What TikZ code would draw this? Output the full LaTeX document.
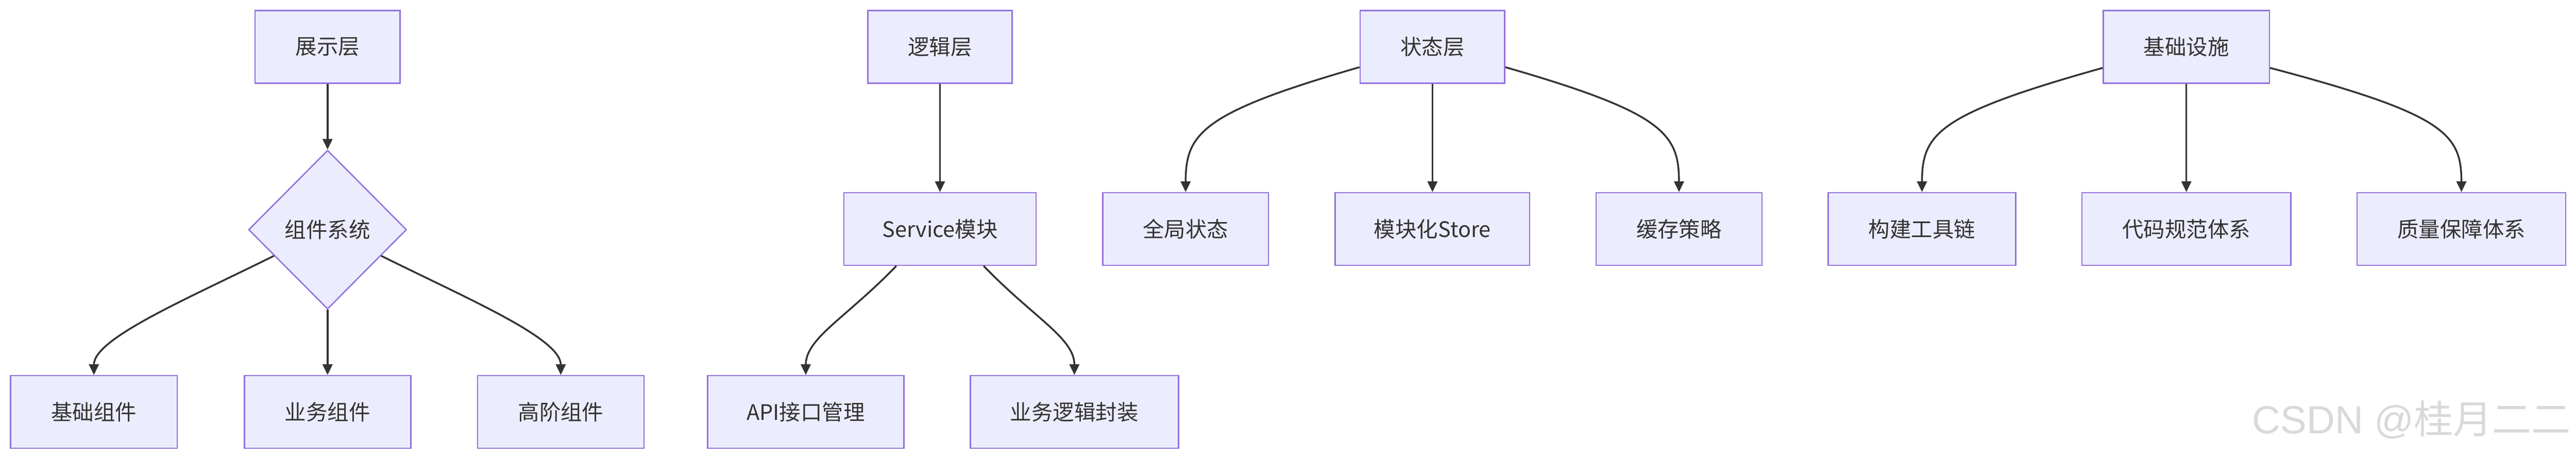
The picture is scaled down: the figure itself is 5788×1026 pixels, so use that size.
\documentclass[tikz,border=0pt]{standalone}
\usepackage{fontspec}
\setmainfont{Noto Sans CJK SC}
\newfontfamily\wmfont{Liberation Sans}
\newfontfamily\wmcjk{Noto Sans CJK SC}
\usetikzlibrary{shapes.geometric,arrows.meta}
\definecolor{nodefill}{HTML}{ECECFF}
\definecolor{nodeline}{HTML}{9370DB}
\definecolor{edgecol}{HTML}{333333}
\definecolor{wmgray}{HTML}{D9D9D9}
\begin{document}
\begin{tikzpicture}[x=1pt,y=-1pt,
  box/.style={draw=nodeline, fill=nodefill, line width=3pt, minimum height=163pt,
    inner sep=0pt, text=edgecol, font=\fontsize{48}{56}\selectfont},
  dia/.style={diamond, aspect=1, draw=nodeline, fill=nodefill, line width=3pt,
    minimum width=355pt, minimum height=357pt, inner sep=0pt, text=edgecol,
    font=\fontsize{48}{56}\selectfont},
  edge/.style={draw=edgecol, line width=4pt, -{Triangle[length=24pt,width=22pt]}}
]
\useasboundingbox[fill=white] (0,0) rectangle (5788,1026);

% group 1
\node[box, minimum width=326pt] (P) at (736,105.5) {展示层};
\node[dia] (D) at (736,516) {组件系统};
\node[box, minimum width=374pt] (B1) at (211,925.5) {基础组件};
\node[box, minimum width=374pt] (B2) at (736,925.5) {业务组件};
\node[box, minimum width=374pt] (B3) at (1260,925.5) {高阶组件};

% group 2
\node[box, minimum width=324pt] (L) at (2112,105.5) {逻辑层};
\node[box, minimum width=432pt] (S) at (2112,514.5) {Service模块};
\node[box, minimum width=441pt] (A) at (1810.5,925.5) {API接口管理};
\node[box, minimum width=468pt] (E) at (2414,925.5) {业务逻辑封装};

% group 3
\node[box, minimum width=325pt] (ST) at (3218.5,105.5) {状态层};
\node[box, minimum width=372pt] (G) at (2664,514.5) {全局状态};
\node[box, minimum width=437pt] (M) at (3218.5,514.5) {模块化Store};
\node[box, minimum width=373pt] (C) at (3772.5,514.5) {缓存策略};

% group 4
\node[box, minimum width=373pt] (I) at (4912.5,105.5) {基础设施};
\node[box, minimum width=421pt] (T) at (4318.5,514.5) {构建工具链};
\node[box, minimum width=469pt] (Q) at (4912.5,514.5) {代码规范体系};
\node[box, minimum width=469pt] (R) at (5530.5,514.5) {质量保障体系};

% edges group 1
\draw[edge] (P.south) -- (D.north);
\draw[edge] (D.206) .. controls (420,672) and (211,760) .. (B1.north);
\draw[edge] (D.south) -- (B2.north);
\draw[edge] (D.334) .. controls (1052,672) and (1260,760) .. (B3.north);

% edges group 2
\draw[edge] (L.south) -- (S.north);
\draw[edge] ([xshift=-98pt]S.south) .. controls (1900,715) and (1810.5,760) .. (A.north);
\draw[edge] ([xshift=98pt]S.south) .. controls (2324,715) and (2414,760) .. (E.north);

% edges group 3
\draw[edge] ([yshift=-45.5pt]ST.west) .. controls (2700,253) and (2664,300) .. (G.north);
\draw[edge] (ST.south) -- (M.north);
\draw[edge] ([yshift=-45.5pt]ST.east) .. controls (3737,253) and (3772.5,300) .. (C.north);

% edges group 4
\draw[edge] ([yshift=-47pt]I.west) .. controls (4355,256) and (4318.5,300) .. (T.north);
\draw[edge] (I.south) -- (Q.north);
\draw[edge] ([yshift=-47pt]I.east) .. controls (5492,256) and (5530.5,300) .. (R.north);

% watermark
\node[anchor=base east, inner sep=0pt, text=wmgray, font=\fontsize{88}{96}\selectfont] (wm) at (5776,974) {\wmfont CSDN @\wmcjk 桂月二二};
\end{tikzpicture}
\end{document}
